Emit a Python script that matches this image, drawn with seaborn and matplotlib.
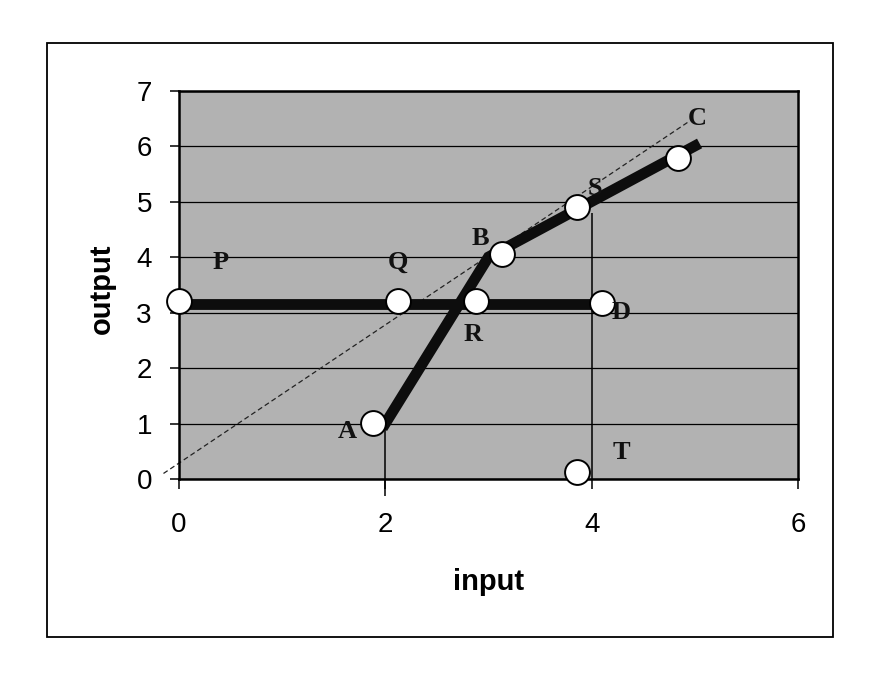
import matplotlib
matplotlib.use("Agg")
import matplotlib.pyplot as plt
import seaborn as sns
import pandas as pd
from matplotlib.patches import Rectangle

# ---------------- data ----------------
point_labels = ["P", "Q", "R", "D", "A", "B", "S", "C", "T"]
point_x = [0.0, 2.12, 2.88, 4.10, 1.88, 3.13, 3.86, 4.84, 3.86]
point_y = [3.20, 3.20, 3.20, 3.18, 1.01, 4.05, 4.90, 5.78, 0.13]

letter_x = [0.40, 2.12, 2.85, 4.29, 1.63, 2.92, 4.03, 5.02, 4.29]
letter_y = [3.91, 3.91, 2.60, 3.00, 0.85, 4.34, 5.24, 6.50, 0.47]

flat_x = [0.0, 4.0]
flat_y = [3.15, 3.15]

kink_x = [2.0, 3.0, 5.0]
kink_y = [1.0, 4.0, 6.0]

ray_x = [-0.15, 4.95]
ray_y = [0.10, 6.45]

drop_x = [2.0, 4.0]
drop_bottom = [-0.30, 0.0]
drop_top = [1.0, 4.80]

x_ticks = [0, 2, 4, 6]
y_ticks = [0, 1, 2, 3, 4, 5, 6, 7]
x_label = "input"
y_label = "output"

# ---------------- styling ----------------
sns.set_style("white")
plt.rcParams["font.family"] = ["Liberation Sans", "DejaVu Sans"]
plt.rcParams["text.color"] = "black"
plt.rcParams["axes.labelcolor"] = "black"

fig = plt.figure(figsize=(8.7, 6.81), dpi=100)
ax = fig.add_axes([0.2057, 0.2966, 0.9172 - 0.2057, 0.8671 - 0.2966])
ax.set_facecolor("#b2b2b2")

# horizontal gridlines
ax.set_axisbelow(True)
ax.yaxis.grid(True, color="black", linewidth=0.9)
ax.xaxis.grid(False)

# dashed reference ray
ray_df = pd.DataFrame({"x": ray_x, "y": ray_y})
sns.lineplot(data=ray_df, x="x", y="y", ax=ax, color="#222222", linewidth=0.9,
             linestyle=(0, (4, 2.5)), estimator=None, sort=False, clip_on=False, zorder=2)

# thin vertical drop lines
ax.vlines(drop_x, drop_bottom, drop_top, colors="black", linewidth=1.1, zorder=2, clip_on=False)

# thick lines
flat_df = pd.DataFrame({"x": flat_x, "y": flat_y})
sns.lineplot(data=flat_df, x="x", y="y", ax=ax, color="#0d0d0d", linewidth=7.8,
             estimator=None, sort=False, solid_capstyle="butt", zorder=3)
kink_df = pd.DataFrame({"x": kink_x, "y": kink_y})
sns.lineplot(data=kink_df, x="x", y="y", ax=ax, color="#0d0d0d", linewidth=7.8,
             estimator=None, sort=False, solid_capstyle="projecting",
             solid_joinstyle="miter", zorder=3)

# circle markers
pts_df = pd.DataFrame({"x": point_x, "y": point_y, "label": point_labels})
sns.scatterplot(data=pts_df, x="x", y="y", ax=ax, s=320, color="white",
                edgecolor="black", linewidth=1.4, zorder=5, clip_on=False)

# letters
for lab, lx, ly in zip(point_labels, letter_x, letter_y):
    ax.text(lx, ly, lab, ha="center", va="center", fontsize=19, fontweight="bold",
            family=["Liberation Serif", "DejaVu Serif"], color="#111111", zorder=6)

# axes
ax.set_xlim(0, 6)
ax.set_ylim(0, 7)
ax.set_xticks(x_ticks)
ax.set_yticks(y_ticks)
ax.tick_params(axis="both", direction="out", colors="black", labelcolor="black",
               labelsize=20, width=1.1, left=True, bottom=True)
ax.tick_params(axis="x", length=7, pad=17)
ax.tick_params(axis="y", length=6.5, pad=13)
for sp in ax.spines.values():
    sp.set_visible(True)
    sp.set_color("black")
    sp.set_linewidth(1.8)

ax.set_xlabel(x_label, fontsize=21, fontweight="bold", color="black")
ax.set_ylabel(y_label, fontsize=21, fontweight="bold", color="black")
ax.xaxis.label.set_va("center")
ax.xaxis.set_label_coords(0.5, (479 - 582) / 388.5)
ax.yaxis.label.set_va("center")
ax.yaxis.label.set_ha("center")
ax.yaxis.set_label_coords((102 - 179) / 619, 0.49)

# outer frame
fig.patches.append(Rectangle((47 / 870, 1 - 637 / 681), (833 - 47) / 870, (637 - 43) / 681,
                             transform=fig.transFigure, fill=False, edgecolor="black",
                             linewidth=1.3))

fig.savefig("out.png", dpi=100, facecolor="white")
